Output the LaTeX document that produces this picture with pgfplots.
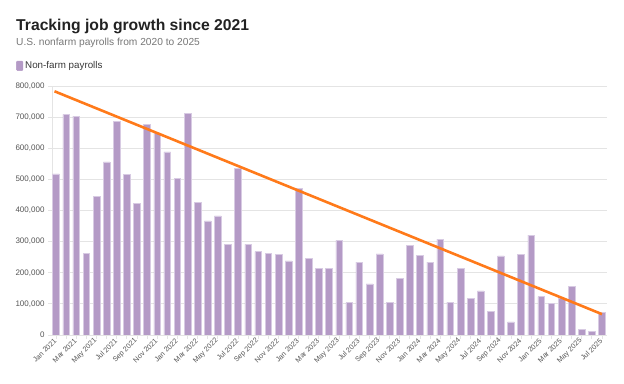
\documentclass[border=0pt]{standalone}
\usepackage{pgfplots}
\pgfplotsset{compat=1.18}
\usepackage{pgfplotstable}
\usepackage{fontspec}
\setmainfont{Liberation Sans}
\definecolor{barc}{HTML}{B49AC6}
\definecolor{barl}{HTML}{D8CBE3}
\definecolor{trend}{HTML}{FF7A1A}
\definecolor{gridc}{HTML}{E4E4E4}
\definecolor{tickc}{HTML}{555555}
\definecolor{titlec}{HTML}{222222}
\definecolor{subc}{HTML}{777777}

\pgfplotstableread{
x y
0 518000
1 709000
2 703000
3 262000
4 446000
5 556000
6 687000
7 516000
8 423000
9 676000
10 649000
11 588000
12 503000
13 713000
14 427000
15 367000
16 383000
17 292000
18 536000
19 291000
20 268000
21 262000
22 259000
23 238000
24 471000
25 246000
26 215000
27 215000
28 304000
29 104000
30 234000
31 164000
32 261000
33 104000
34 181000
35 289000
36 255000
37 234000
38 308000
39 106000
40 215000
41 117000
42 142000
43 77000
44 254000
45 42000
46 260000
47 321000
48 123000
49 101000
50 117000
51 156000
52 18000
53 12000
54 72000
}\payrolls

\begin{document}
\begin{tikzpicture}
\path[use as bounding box] (0pt,0pt) rectangle (624pt,383pt);
\node[anchor=base west, inner sep=0, font=\bfseries\fontsize{15.7}{18}\selectfont, text=titlec] at (16pt,352pt) {Tracking job growth since 2021};
\node[anchor=base west, inner sep=0, font=\fontsize{10.2}{12}\selectfont, text=subc] at (16pt,337.3pt) {U.S. nonfarm payrolls from 2020 to 2025};
\begin{axis}[
  at={(52pt,48pt)}, anchor=south west,
  scale only axis, width=555pt, height=249pt,
  xmin=-0.4, xmax=54.5, ymin=0, ymax=800000,
  axis x line*=bottom, axis y line*=left,
  axis line style={draw=gridc, line width=0.8pt, -},
  ymajorgrids, grid style={draw=gridc, line width=0.8pt},
  ytick={0,100000,...,800000},
  scaled y ticks=false,
  yticklabel style={font=\fontsize{8}{9.6}\selectfont, text=tickc, /pgf/number format/.cd, fixed, 1000 sep={,}, assume math mode=true},
  xtick={0,...,54},
  xticklabels={Jan 2021,,Mar 2021,,May 2021,,Jul 2021,,Sep 2021,,Nov 2021,,Jan 2022,,Mar 2022,,May 2022,,Jul 2022,,Sep 2022,,Nov 2022,,Jan 2023,,Mar 2023,,May 2023,,Jul 2023,,Sep 2023,,Nov 2023,,Jan 2024,,Mar 2024,,May 2024,,Jul 2024,,Sep 2024,,Nov 2024,,Jan 2025,,Mar 2025,,May 2025,,Jul 2025},
  xticklabel style={font=\fontsize{7.2}{8.6}\selectfont, text=tickc, rotate=45, anchor=east, inner sep=1pt},
  tick align=outside, major tick length=4pt,
  tick style={draw=gridc, line width=0.8pt},
  legend style={at={(-0.0649,1.080)}, anchor=west, draw=none, fill=none, inner sep=0pt,
    font=\fontsize{9.8}{11}\selectfont, text=titlec!90, legend cell align=left},
  legend image code/.code={\fill[barc, rounded corners=1pt] (0pt,-4.5pt) rectangle (6.5pt,5pt);},
]
\addplot[ybar, bar width=0.66, bar shift=0pt, fill=barc, draw=barl, line width=0.5pt] table[x=x, y=y] {\payrolls};
\addlegendentry{Non-farm payrolls}
\addplot[trend, line width=2.6pt, forget plot] coordinates {(-0.15,783000) (54,67000)};
\end{axis}
\end{tikzpicture}
\end{document}
